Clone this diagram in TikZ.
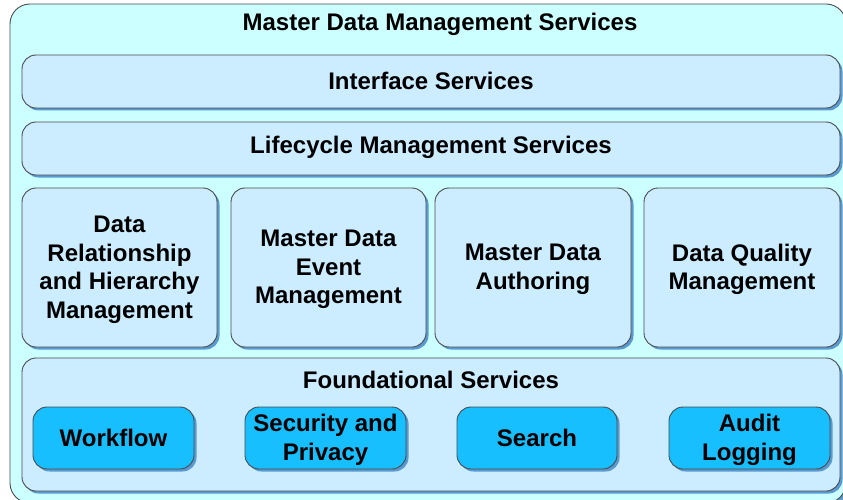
\documentclass[tikz,border=0pt]{standalone}
\usepackage{fontspec}
\setmainfont{Liberation Sans}
\usetikzlibrary{shadows}
\definecolor{outerfill}{HTML}{CCFFFF}
\definecolor{boxfill}{HTML}{CCECFF}
\definecolor{btnfill}{HTML}{17BFFF}
\definecolor{edgecol}{HTML}{4A4A4A}
\definecolor{shadcol}{HTML}{5A9AD0}
\tikzset{
  panel/.style={draw=edgecol, line width=0.9pt, rounded corners=14pt,
    drop shadow={shadow xshift=2.5pt, shadow yshift=-2.5pt, fill=shadcol, opacity=1}},
  boxtxt/.style={font=\bfseries\fontsize{24}{28.5}\selectfont, align=center, text=black},
}
\begin{document}
\begin{tikzpicture}[x=1pt,y=-1pt]
\useasboundingbox (0,0) rectangle (843,500);
\begin{scope}
\clip (0,0) rectangle (843,500);
\draw[panel, fill=outerfill, rounded corners=20pt] (10,4) rectangle (846,503);
\end{scope}
\node[boxtxt] (title) at (440,24) {Master Data Management Services};
% interface
\draw[panel, fill=boxfill] (22,55) rectangle (840,108);
\node[boxtxt] (iface) at (431,81) {Interface Services};
\draw[panel, fill=boxfill] (22,122) rectangle (840,175);
\node[boxtxt] (life) at (431,147) {Lifecycle Management Services};
% four boxes
\draw[panel, fill=boxfill] (22,188) rectangle (217,347);
\node[boxtxt] (drh) at (119.5,270) {Data\\Relationship\\and Hierarchy\\Management};
\draw[panel, fill=boxfill] (231,188) rectangle (426,347);
\node[boxtxt] (mde) at (328.5,269.5) {Master Data\\Event\\Management};
\draw[panel, fill=boxfill] (435,188) rectangle (631,347);
\node[boxtxt] (mda) at (533,269.5) {Master Data\\Authoring};
\draw[panel, fill=boxfill] (644,188) rectangle (840,347);
\node[boxtxt] (dqm) at (742,269.5) {Data Quality\\Management};
% foundational
\draw[panel, fill=boxfill] (22,358) rectangle (840,491);
\node[boxtxt] (found) at (431,380) {Foundational Services};
\draw[panel, fill=btnfill] (33,407) rectangle (194,469);
\node[boxtxt] (wf) at (113.5,438) {Workflow};
\draw[panel, fill=btnfill] (245,407) rectangle (406,469);
\node[boxtxt] (sec) at (325.5,440) {Security and\\Privacy};
\draw[panel, fill=btnfill] (457,407) rectangle (617,469);
\node[boxtxt] (search) at (537,438) {Search};
\draw[panel, fill=btnfill] (669,407) rectangle (830,469);
\node[boxtxt] (audit) at (749.5,440) {Audit\\Logging};
\end{tikzpicture}
\end{document}
